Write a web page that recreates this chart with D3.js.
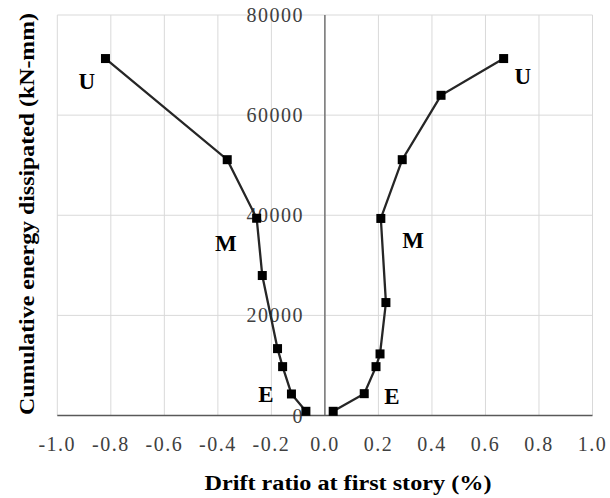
<!DOCTYPE html>
<html>
<head>
<meta charset="utf-8">
<script src="https://cdn.jsdelivr.net/npm/d3@7"></script>
<style>
  body { margin: 0; background: #fff; }
  svg text { font-family: "Liberation Serif", "Times New Roman", Tinos, serif; fill: #000; }
</style>
</head>
<body>
<div id="chart"></div>
<script>
// drift ratio (%) vs cumulative energy (kN-mm), negative side
var negDrift  = [-0.071, -0.125, -0.158, -0.177, -0.234, -0.255, -0.365, -0.82];
var negEnergy = [840, 4300, 9760, 13360, 27960, 39400, 51100, 71300];
// positive side
var posDrift  = [0.031, 0.147, 0.191, 0.206, 0.228, 0.209, 0.289, 0.434, 0.668];
var posEnergy = [840, 4360, 9760, 12300, 22560, 39360, 51100, 63960, 71300];

var xTicks = [-1.0, -0.8, -0.6, -0.4, -0.2, 0.0, 0.2, 0.4, 0.6, 0.8, 1.0];
var yTicks = [0, 20000, 40000, 60000, 80000];

// stage labels: text, drift, energy
var stageLabels = [
  {t: "U", x: -0.89, y: 66800},
  {t: "M", x: -0.37, y: 34400},
  {t: "E", x: -0.22, y: 4300},
  {t: "U", x: 0.74, y: 67800},
  {t: "M", x: 0.33, y: 35000},
  {t: "E", x: 0.25, y: 3900}
];

var width = 610, height = 498;
var svg = d3.select("#chart").append("svg")
  .attr("width", width)
  .attr("height", height);

var x = d3.scaleLinear().domain([-1, 1]).range([57.3, 592.5]);
var y = d3.scaleLinear().domain([0, 80000]).range([415.5, 15]);

// gridlines
svg.append("g").selectAll("line")
  .data(xTicks)
  .enter().append("line")
  .attr("x1", function(d) { return x(d); })
  .attr("x2", function(d) { return x(d); })
  .attr("y1", y(0))
  .attr("y2", y(80000))
  .attr("stroke", "#d9d9d9")
  .attr("stroke-width", 1);

svg.append("g").selectAll("line")
  .data(yTicks.filter(function(d) { return d > 0; }))
  .enter().append("line")
  .attr("x1", x(-1))
  .attr("x2", x(1))
  .attr("y1", function(d) { return y(d); })
  .attr("y2", function(d) { return y(d); })
  .attr("stroke", "#d9d9d9")
  .attr("stroke-width", 1);

// axis lines
svg.append("line")
  .attr("x1", x(-1)).attr("x2", x(1))
  .attr("y1", y(0)).attr("y2", y(0))
  .attr("stroke", "#595959").attr("stroke-width", 1.5);
svg.append("line")
  .attr("x1", x(0)).attr("x2", x(0))
  .attr("y1", y(0)).attr("y2", y(80000))
  .attr("stroke", "#595959").attr("stroke-width", 1.2);

// tick labels
svg.append("g").selectAll("text")
  .data(xTicks)
  .enter().append("text")
  .attr("x", function(d) { return x(d); })
  .attr("y", 451)
  .attr("text-anchor", "middle")
  .style("font-size", "20px")
  .style("letter-spacing", "1.5px")
  .style("fill", "#404040")
  .text(function(d) { return d3.format(".1f")(d).replace("\u2212", "-"); });

svg.append("g").selectAll("text")
  .data(yTicks)
  .enter().append("text")
  .attr("x", 304)
  .attr("y", function(d) { return y(d) + 7; })
  .attr("text-anchor", "end")
  .style("font-size", "20px")
  .style("letter-spacing", "1.5px")
  .style("fill", "#404040")
  .text(function(d) { return d; });

// series, straight segments between points
var line = d3.line()
  .x(function(d) { return x(d[0]); })
  .y(function(d) { return y(d[1]); });

var series = [d3.zip(negDrift, negEnergy), d3.zip(posDrift, posEnergy)];

svg.append("g").selectAll("path")
  .data(series)
  .enter().append("path")
  .attr("d", line)
  .attr("fill", "none")
  .attr("stroke", "#262626")
  .attr("stroke-width", 2.3);

series.forEach(function(s) {
  svg.append("g").selectAll("rect")
    .data(s)
    .enter().append("rect")
    .attr("x", function(d) { return x(d[0]) - 4.5; })
    .attr("y", function(d) { return y(d[1]) - 4.5; })
    .attr("width", 9)
    .attr("height", 9)
    .attr("fill", "#000");
});

// stage labels
svg.append("g").selectAll("text")
  .data(stageLabels)
  .enter().append("text")
  .attr("x", function(d) { return x(d.x); })
  .attr("y", function(d) { return y(d.y) + 8; })
  .attr("text-anchor", "middle")
  .style("font-size", "23px")
  .style("font-weight", "bold")
  .text(function(d) { return d.t; });

// axis titles
svg.append("text")
  .attr("x", 348)
  .attr("y", 490)
  .attr("text-anchor", "middle")
  .attr("textLength", 287)
  .attr("lengthAdjust", "spacingAndGlyphs")
  .style("font-size", "20px")
  .style("font-weight", "bold")
  .text("Drift ratio at first story (%)");

svg.append("text")
  .attr("transform", "translate(34,214) rotate(-90)")
  .attr("text-anchor", "middle")
  .attr("textLength", 402)
  .attr("lengthAdjust", "spacingAndGlyphs")
  .style("font-size", "20px")
  .style("font-weight", "bold")
  .text("Cumulative energy dissipated (kN-mm)");
</script>
</body>
</html>
